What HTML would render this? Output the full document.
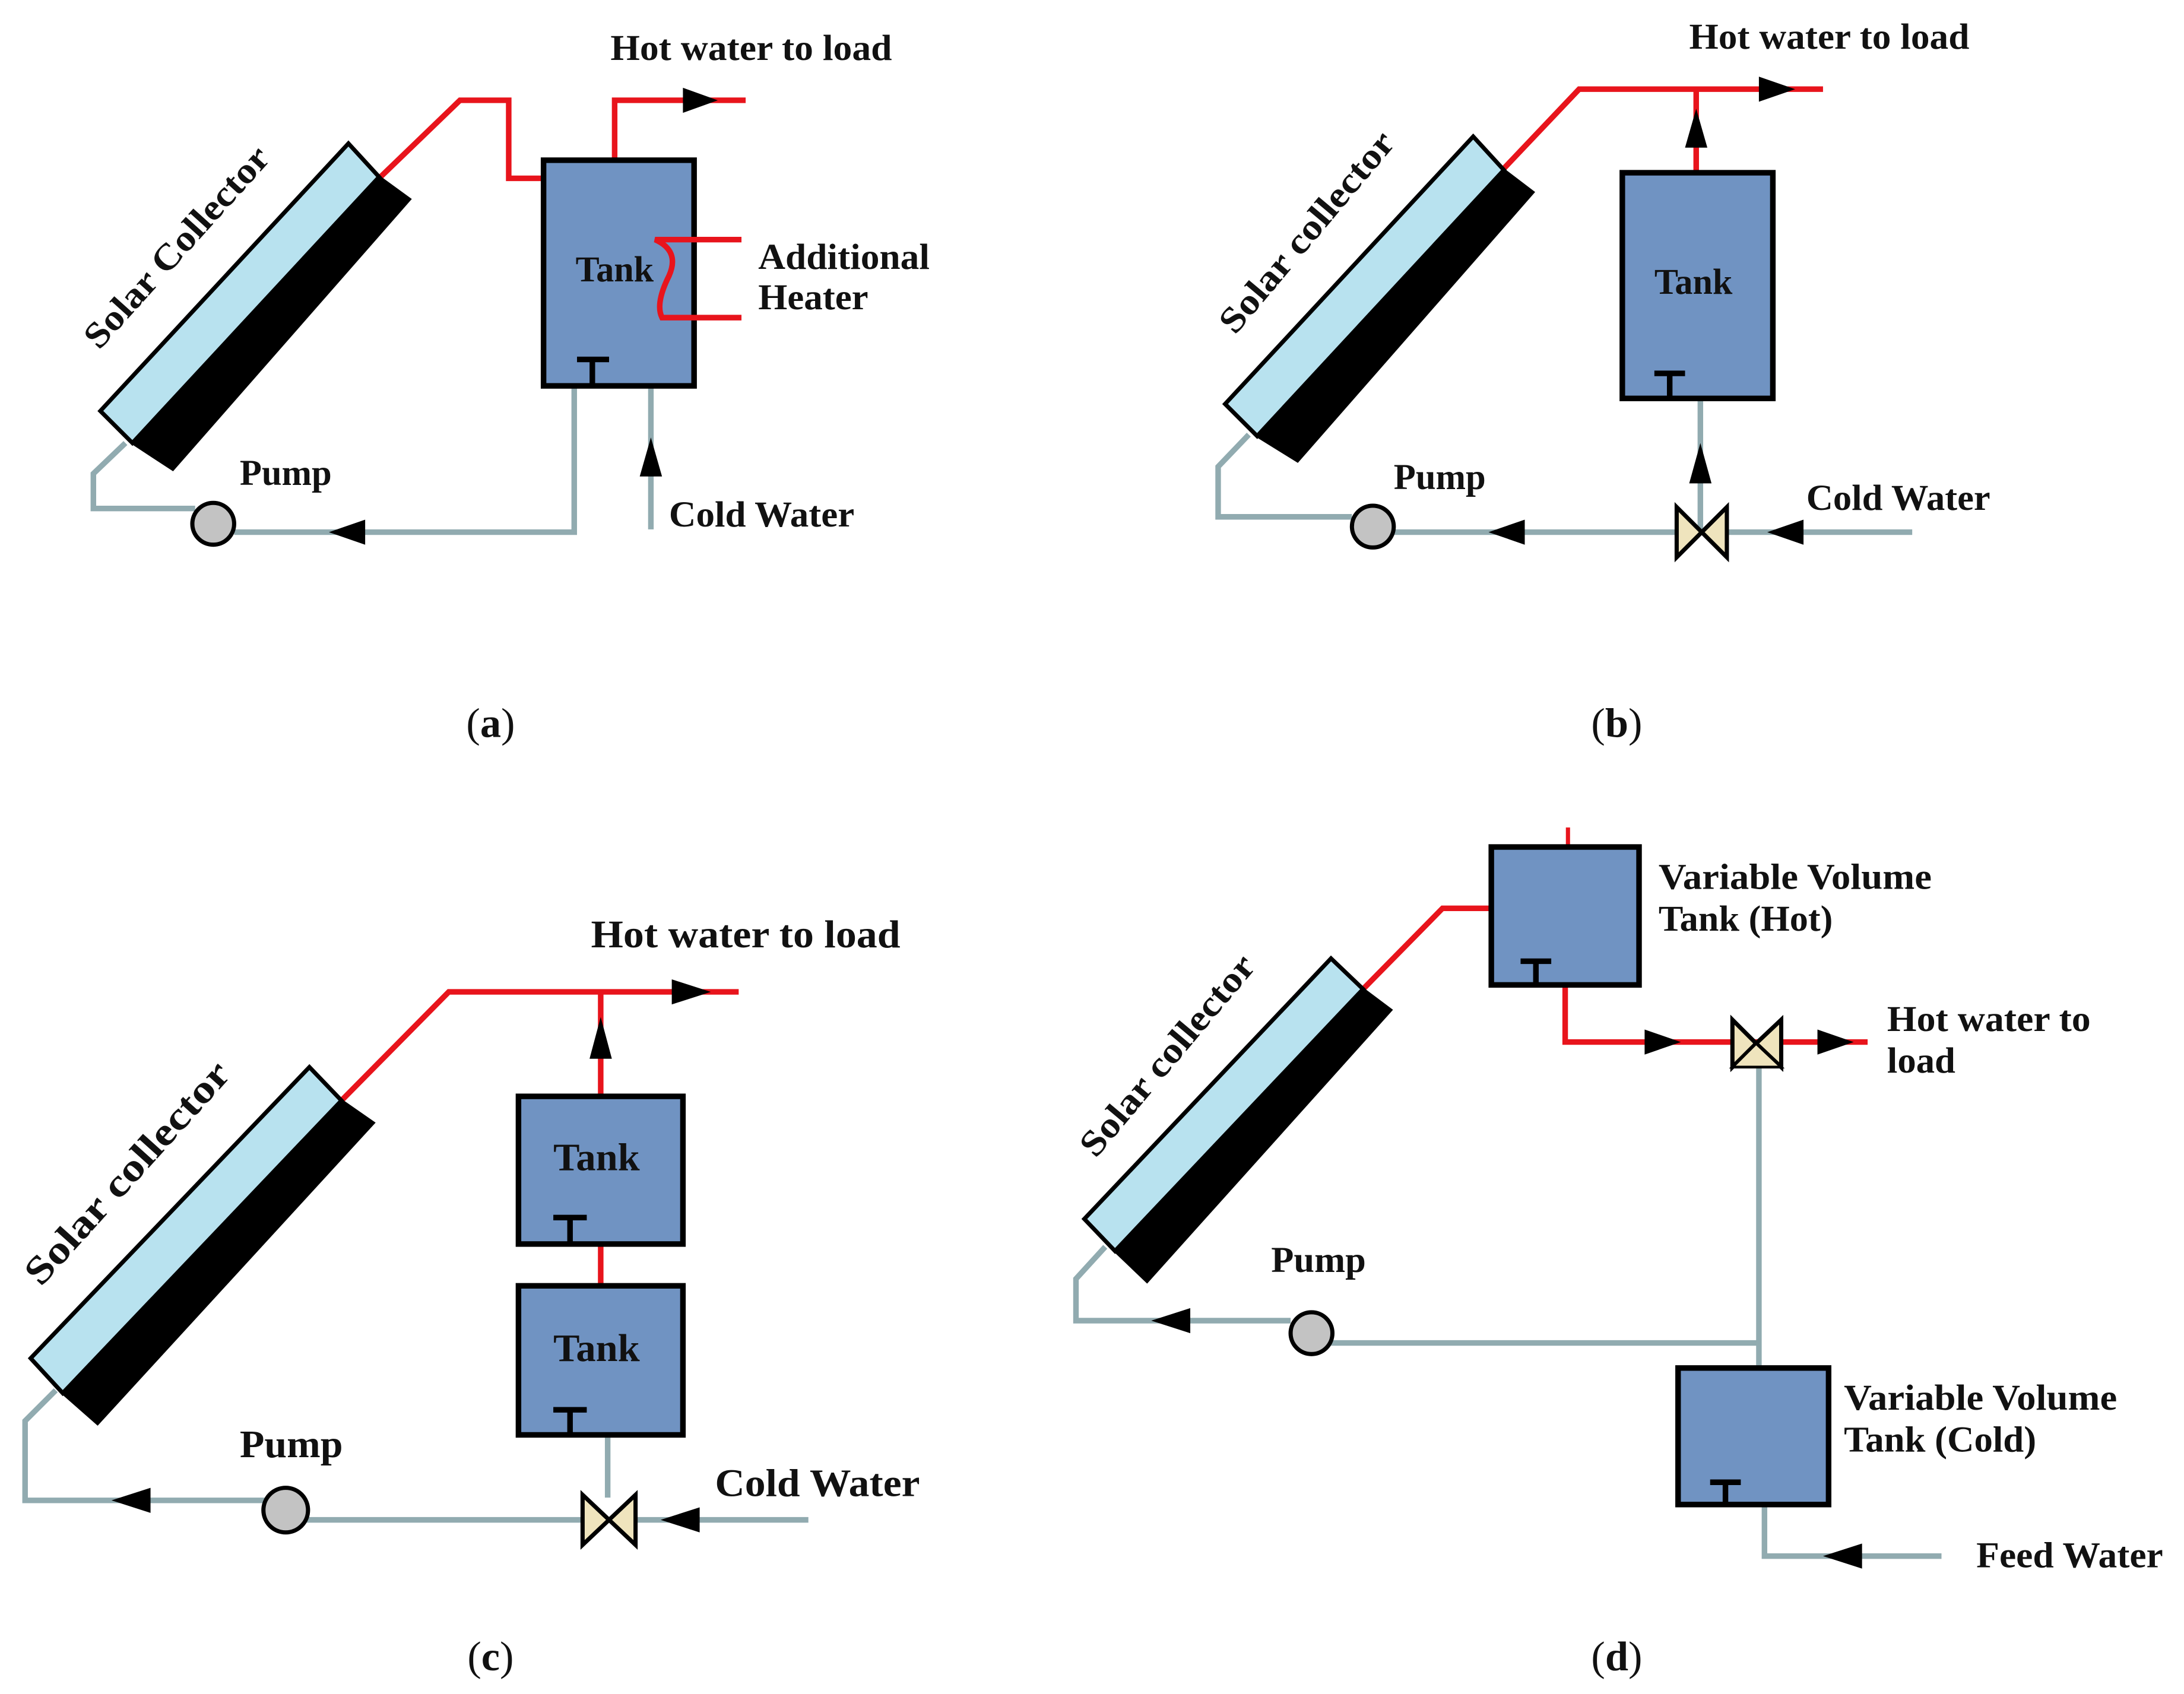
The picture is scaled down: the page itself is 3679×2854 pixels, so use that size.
<!DOCTYPE html>
<html><head><meta charset="utf-8"><style>
html,body{margin:0;padding:0;background:#fff;}
svg{display:block;}
svg text{font-family:"Liberation Serif","DejaVu Serif",serif;font-weight:bold;fill:#111;}
</style></head><body>
<svg width="3679" height="2854" viewBox="0 0 1567 1216" preserveAspectRatio="none" xmlns="http://www.w3.org/2000/svg">
<rect width="1567" height="1216" fill="#fff"/>
<g stroke-linejoin="miter" fill="none">
<!-- ===== (a) ===== -->
<polyline points="272,128 330,72 365,72 365,128 390,128" stroke="#e8141c" stroke-width="4"/>
<polyline points="441,115 441,72 535,72" stroke="#e8141c" stroke-width="4"/>
<polyline points="90,318 67,340 67,365 140,365" stroke="#91abb0" stroke-width="4"/>
<polyline points="168,382 412,382 412,277" stroke="#91abb0" stroke-width="4"/>
<line x1="467" y1="277" x2="467" y2="380" stroke="#91abb0" stroke-width="4"/>
<rect x="390" y="115" width="108" height="162" fill="#7093c2" stroke="#000" stroke-width="4"/>
<path d="M425 258 H437 M425 258 H414 M425 258 V277" stroke="#000" stroke-width="4"/>
<path d="M532 172 H470 Q488 180 480 198 Q470 218 475 228 H532" stroke="#e8141c" stroke-width="4"/>
<polygon points="250,103 272,127 95,318 72,295" fill="#b8e2ef" stroke="#000" stroke-width="3"/>
<polygon points="272,127 294,143 124,337 95,318" fill="#000" stroke="#000" stroke-width="2"/>
<circle cx="153" cy="376" r="15" fill="#c3c3c3" stroke="#000" stroke-width="3"/>
</g>
<polygon points="490,63 515,72 490,81" fill="#000"/>
<polygon points="262,373 236,382 262,391" fill="#000"/>
<polygon points="459,342 467,314 475,342" fill="#000"/>
<g font-size="26" lengthAdjust="spacingAndGlyphs">
<text x="438" y="43" textLength="202" lengthAdjust="spacingAndGlyphs">Hot water to load</text>
<text x="413" y="202" textLength="56" lengthAdjust="spacingAndGlyphs">Tank</text>
<text x="544" y="193" textLength="123" lengthAdjust="spacingAndGlyphs">Additional</text>
<text x="544" y="222" textLength="79" lengthAdjust="spacingAndGlyphs">Heater</text>
<text x="172" y="348" textLength="66" lengthAdjust="spacingAndGlyphs">Pump</text>
<text x="480" y="378" textLength="133" lengthAdjust="spacingAndGlyphs">Cold Water</text>
<text transform="translate(133,183) rotate(-48)" text-anchor="middle" textLength="185" lengthAdjust="spacingAndGlyphs">Solar Collector</text>
</g>
<text x="352" y="529" font-size="30" text-anchor="middle" style="font-weight:normal">(<tspan style="font-weight:bold">a</tspan>)</text>

<!-- ===== (b) ===== -->
<g fill="none">
<polyline points="1078,122 1133,64 1308,64" stroke="#e8141c" stroke-width="4"/>
<line x1="1217" y1="124" x2="1217" y2="64" stroke="#e8141c" stroke-width="4"/>
<polyline points="896,312 874,335 874,371 970,371" stroke="#91abb0" stroke-width="4"/>
<line x1="1000" y1="382" x2="1372" y2="382" stroke="#91abb0" stroke-width="4"/>
<line x1="1220" y1="286" x2="1220" y2="382" stroke="#91abb0" stroke-width="4"/>
<rect x="1164" y="124" width="108" height="162" fill="#7093c2" stroke="#000" stroke-width="4"/>
<path d="M1187 268 H1209 M1198 268 V286" stroke="#000" stroke-width="4"/>
<polygon points="1057,98 1079,122 902,313 879,290" fill="#b8e2ef" stroke="#000" stroke-width="3"/>
<polygon points="1079,122 1100,138 931,331 902,313" fill="#000" stroke="#000" stroke-width="2"/>
<circle cx="985" cy="378" r="15" fill="#c3c3c3" stroke="#000" stroke-width="3"/>
<polygon points="1203,364 1221,382 1203,400" fill="#efe4bd" stroke="#000" stroke-width="3"/>
<polygon points="1239,364 1221,382 1239,400" fill="#efe4bd" stroke="#000" stroke-width="3"/>
</g>
<polygon points="1262,55 1288,64 1262,73" fill="#000"/>
<polygon points="1209,106 1217,78 1225,106" fill="#000"/>
<polygon points="1212,347 1220,318 1228,347" fill="#000"/>
<polygon points="1094,373 1068,382 1094,391" fill="#000"/>
<polygon points="1294,373 1268,382 1294,391" fill="#000"/>
<g font-size="26">
<text x="1212" y="35" textLength="201" lengthAdjust="spacingAndGlyphs">Hot water to load</text>
<text x="1187" y="211" textLength="56" lengthAdjust="spacingAndGlyphs">Tank</text>
<text x="1000" y="351" textLength="66" lengthAdjust="spacingAndGlyphs">Pump</text>
<text x="1296" y="366" textLength="132" lengthAdjust="spacingAndGlyphs">Cold Water</text>
<text transform="translate(944,172) rotate(-50)" text-anchor="middle" textLength="180" lengthAdjust="spacingAndGlyphs">Solar collector</text>
</g>
<text x="1160" y="529" font-size="30" text-anchor="middle" style="font-weight:normal">(<tspan style="font-weight:bold">b</tspan>)</text>

<!-- ===== (c) ===== -->
<g fill="none">
<polyline points="245,790 322,712 530,712" stroke="#e8141c" stroke-width="4"/>
<line x1="431" y1="787" x2="431" y2="712" stroke="#e8141c" stroke-width="4"/>
<line x1="431" y1="893" x2="431" y2="923" stroke="#e8141c" stroke-width="4"/>
<polyline points="40,998 18,1020 18,1077 190,1077" stroke="#91abb0" stroke-width="4"/>
<line x1="220" y1="1091" x2="580" y2="1091" stroke="#91abb0" stroke-width="4"/>
<line x1="436" y1="1030" x2="436" y2="1075" stroke="#91abb0" stroke-width="4"/>
<rect x="372" y="787" width="118" height="106" fill="#7093c2" stroke="#000" stroke-width="4"/>
<rect x="372" y="923" width="118" height="107" fill="#7093c2" stroke="#000" stroke-width="4"/>
<path d="M397 874 H421 M409 874 V893" stroke="#000" stroke-width="4"/>
<path d="M397 1012 H421 M409 1012 V1030" stroke="#000" stroke-width="4"/>
<polygon points="222,766 245,790 45,1000 22,975" fill="#b8e2ef" stroke="#000" stroke-width="3"/>
<polygon points="245,790 268,806 70,1022 45,1000" fill="#000" stroke="#000" stroke-width="2"/>
<circle cx="205" cy="1084" r="16" fill="#c3c3c3" stroke="#000" stroke-width="3"/>
<polygon points="418,1073 437,1091 418,1109" fill="#efe4bd" stroke="#000" stroke-width="3"/>
<polygon points="456,1073 437,1091 456,1109" fill="#efe4bd" stroke="#000" stroke-width="3"/>
</g>
<polygon points="482,703 510,712 482,721" fill="#000"/>
<polygon points="423,760 431,730 439,760" fill="#000"/>
<polygon points="108,1068 80,1077 108,1086" fill="#000"/>
<polygon points="502,1082 474,1091 502,1100" fill="#000"/>
<g font-size="28">
<text x="424" y="680" textLength="222" lengthAdjust="spacingAndGlyphs">Hot water to load</text>
<text x="397" y="840" textLength="62" lengthAdjust="spacingAndGlyphs">Tank</text>
<text x="397" y="977" textLength="62" lengthAdjust="spacingAndGlyphs">Tank</text>
<text x="172" y="1046" textLength="74" lengthAdjust="spacingAndGlyphs">Pump</text>
<text x="513" y="1074" textLength="147" lengthAdjust="spacingAndGlyphs">Cold Water</text>
<text transform="translate(98,848) rotate(-48)" text-anchor="middle" textLength="205" lengthAdjust="spacingAndGlyphs">Solar collector</text>
</g>
<text x="352" y="1199" font-size="30" text-anchor="middle" style="font-weight:normal">(<tspan style="font-weight:bold">c</tspan>)</text>

<!-- ===== (d) ===== -->
<g fill="none">
<polyline points="978,710 1035,652 1070,652" stroke="#e8141c" stroke-width="4"/>
<line x1="1125" y1="594" x2="1125" y2="608" stroke="#e8141c" stroke-width="3"/>
<polyline points="1123,707 1123,748 1340,748" stroke="#e8141c" stroke-width="4"/>
<line x1="1262" y1="765" x2="1262" y2="982" stroke="#91abb0" stroke-width="4"/>
<line x1="955" y1="964" x2="1262" y2="964" stroke="#91abb0" stroke-width="4"/>
<polyline points="793,895 772,918 772,948 926,948" stroke="#91abb0" stroke-width="4"/>
<polyline points="1266,1080 1266,1117 1393,1117" stroke="#91abb0" stroke-width="4"/>
<rect x="1070" y="608" width="106" height="99" fill="#7093c2" stroke="#000" stroke-width="4"/>
<path d="M1091 690 H1113 M1102 690 V707" stroke="#000" stroke-width="4"/>
<rect x="1204" y="982" width="108" height="98" fill="#7093c2" stroke="#000" stroke-width="4"/>
<path d="M1227 1064 H1249 M1238 1064 V1080" stroke="#000" stroke-width="4"/>
<polygon points="955,688 978,710 800,898 778,875" fill="#b8e2ef" stroke="#000" stroke-width="3"/>
<polygon points="978,710 998,725 823,920 800,898" fill="#000" stroke="#000" stroke-width="2"/>
<circle cx="941" cy="957" r="15" fill="#c3c3c3" stroke="#000" stroke-width="3"/>
<polygon points="1243,732 1260,749 1243,766" fill="#efe4bd" stroke="#000" stroke-width="3"/>
<polygon points="1278,732 1260,749 1278,766" fill="#efe4bd" stroke="#000" stroke-width="3"/>
<polygon points="1243,766 1260,749 1278,766" fill="#efe4bd" stroke="#000" stroke-width="2"/>
</g>
<polygon points="1180,739 1206,748 1180,757" fill="#000"/>
<polygon points="1304,739 1330,748 1304,757" fill="#000"/>
<polygon points="854,939 826,948 854,957" fill="#000"/>
<polygon points="1336,1108 1308,1117 1336,1126" fill="#000"/>
<g font-size="26">
<text x="1190" y="638" textLength="196" lengthAdjust="spacingAndGlyphs">Variable Volume</text>
<text x="1190" y="668" textLength="125" lengthAdjust="spacingAndGlyphs">Tank (Hot)</text>
<text x="1354" y="740" textLength="146" lengthAdjust="spacingAndGlyphs">Hot water to</text>
<text x="1354" y="770" textLength="49" lengthAdjust="spacingAndGlyphs">load</text>
<text x="912" y="913" textLength="68" lengthAdjust="spacingAndGlyphs">Pump</text>
<text x="1323" y="1012" textLength="196" lengthAdjust="spacingAndGlyphs">Variable Volume</text>
<text x="1323" y="1042" textLength="138" lengthAdjust="spacingAndGlyphs">Tank (Cold)</text>
<text x="1418" y="1125" textLength="134" lengthAdjust="spacingAndGlyphs">Feed Water</text>
<text transform="translate(844,763) rotate(-50)" text-anchor="middle" textLength="180" lengthAdjust="spacingAndGlyphs">Solar collector</text>
</g>
<text x="1160" y="1199" font-size="30" text-anchor="middle" style="font-weight:normal">(<tspan style="font-weight:bold">d</tspan>)</text>
</svg>
</body></html>
